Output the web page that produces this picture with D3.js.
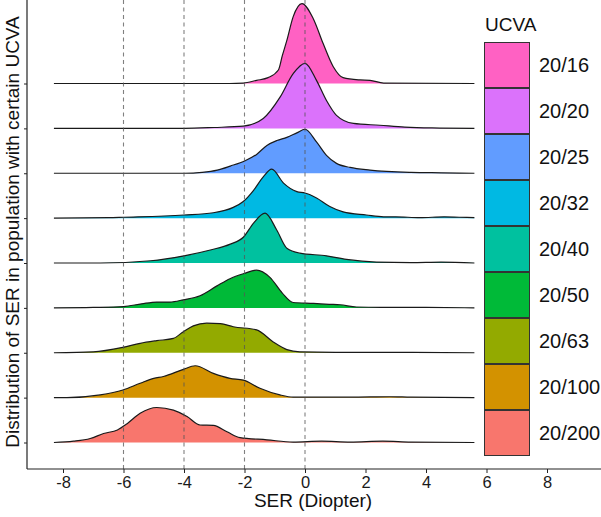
<!DOCTYPE html>
<html>
<head>
<meta charset="utf-8">
<script src="https://cdn.jsdelivr.net/npm/d3@7"></script>
<style>
  html, body { margin: 0; padding: 0; background: #fff; }
  svg { display: block; font-family: "Liberation Sans", Arial, sans-serif; }
</style>
</head>
<body>
<svg id="chart" width="601" height="517"></svg>
<script>
// ---- data ----
const categories = ["20/200", "20/100", "20/63", "20/50", "20/40", "20/32", "20/25", "20/20", "20/16"];
const fillColors = ["#F8766D", "#D39200", "#93AA00", "#00BA38", "#00C19F", "#00B9E3", "#619CFF", "#DB72FB", "#FF61C3"];
const xTicks = [-8, -6, -4, -2, 0, 2, 4, 6, 8];
const refLines = [-6, -4, -2, 0];

// SER values (x) and density heights (in units of one row spacing)
const x_20_16 = [-8.3, -2.5, -2.04, -1.6, -1.22, -0.88, -0.75, -0.6, -0.39, -0.1, 0.27, 0.6, 0.93, 1.26, 1.82, 2.15, 2.6, 5.6];
const d_20_16 = [0, 0, 0.01, 0.07, 0.13, 0.30, 0.62, 0.96, 1.49, 1.78, 1.45, 0.89, 0.38, 0.13, 0.08, 0.07, 0.01, 0];

const x_20_20 = [-8.3, -4, -3, -2.04, -1.38, -0.83, -0.39, 0, 0.38, 0.71, 1.04, 1.6, 2.47, 3.3, 4.2, 5.6];
const d_20_20 = [0, 0, 0.02, 0.05, 0.22, 0.69, 1.22, 1.45, 1.07, 0.62, 0.29, 0.11, 0.07, 0.03, 0.01, 0];

const x_20_25 = [-8.3, -4, -3.4, -2.9, -2.47, -1.98, -1.6, -1.26, -0.93, -0.6, -0.27, 0, 0.38, 0.71, 1.04, 1.49, 2.15, 3.5, 4.5, 5.6];
const d_20_25 = [0, 0, 0.02, 0.07, 0.16, 0.28, 0.42, 0.62, 0.73, 0.80, 0.90, 0.98, 0.70, 0.40, 0.22, 0.13, 0.07, 0.02, 0.01, 0];

const x_20_32 = [-8.3, -6.5, -6, -4, -3.03, -2.37, -2.04, -1.7, -1.38, -1.1, -0.71, -0.27, 0, 0.38, 0.82, 1.26, 2.03, 2.6, 3.0, 3.8, 4.6, 5.1, 5.6];
const d_20_32 = [0, 0.01, 0.02, 0.07, 0.12, 0.24, 0.37, 0.62, 0.92, 1.09, 0.78, 0.59, 0.56, 0.45, 0.26, 0.14, 0.07, 0.03, 0.03, 0.01, 0.03, 0.02, 0.01];

const x_20_40 = [-8.3, -6.77, -5.1, -4, -3.13, -2.47, -2.03, -1.7, -1.32, -0.93, -0.6, -0.17, 0.71, 1.37, 2.36, 3.5, 4.5, 5.6];
const d_20_40 = [0, 0, 0.05, 0.16, 0.29, 0.42, 0.58, 0.89, 1.11, 0.73, 0.33, 0.22, 0.16, 0.08, 0.02, 0.01, 0.02, 0];

const x_20_50 = [-8.3, -7, -6, -5.4, -4.9, -4.46, -4.02, -3.47, -2.91, -2.48, -2.04, -1.6, -1.16, -0.75, -0.39, 0.28, 0.8, 1.16, 1.7, 2.5, 4, 5.6];
const d_20_50 = [0, 0.01, 0.03, 0.09, 0.13, 0.13, 0.18, 0.27, 0.49, 0.65, 0.76, 0.84, 0.68, 0.33, 0.12, 0.10, 0.08, 0.07, 0.02, 0.01, 0.01, 0];

const x_20_63 = [-8.3, -7, -6.02, -5.45, -4.9, -4.35, -4.02, -3.69, -3.25, -2.8, -2.37, -1.6, -1.05, -0.6, -0.17, 1, 3, 5.6];
const d_20_63 = [0, 0.02, 0.12, 0.21, 0.27, 0.32, 0.47, 0.60, 0.66, 0.65, 0.58, 0.51, 0.24, 0.07, 0.02, 0.01, 0.01, 0];

const x_20_100 = [-8.3, -7.87, -6.77, -6.02, -5.45, -5.0, -4.68, -4.02, -3.63, -3.03, -2.48, -2.04, -1.49, -0.83, -0.39, 1.5, 2.8, 3.5, 5.6];
const d_20_100 = [0, 0, 0.06, 0.17, 0.32, 0.43, 0.47, 0.63, 0.71, 0.54, 0.43, 0.39, 0.21, 0.06, 0.01, 0.01, 0.02, 0.01, 0];

const x_20_200 = [-8.3, -7.65, -7.1, -6.66, -6.2, -5.88, -5.45, -4.9, -4.35, -3.9, -3.47, -3.03, -2.58, -2.15, -1.26, -0.39, 0.55, 1.5, 2.57, 3.5, 5.6];
const d_20_200 = [0, 0.03, 0.09, 0.20, 0.28, 0.42, 0.65, 0.78, 0.72, 0.58, 0.39, 0.38, 0.24, 0.11, 0.06, 0.01, 0.03, 0.01, 0.03, 0.01, 0];

const seriesX = [x_20_200, x_20_100, x_20_63, x_20_50, x_20_40, x_20_32, x_20_25, x_20_20, x_20_16];
const seriesD = [d_20_200, d_20_100, d_20_63, d_20_50, d_20_40, d_20_32, d_20_25, d_20_20, d_20_16];

const series = categories.map((c, i) => ({
  cat: c,
  color: fillColors[i],
  pts: seriesX[i].map((xv, j) => [xv, seriesD[i][j]])
}));

// ---- layout ----
const svg = d3.select("#chart");
const axisX0 = 27, axisY = 469, panelTop = 0, panelRight = 601;

const x = d3.scaleLinear().domain([-8, 8]).range([63, 547]);
const yCat = d3.scalePoint().domain(categories).range([442.5, 83.5]);
const rowStep = (442.5 - 83.5) / (categories.length - 1);
const h = d3.scaleLinear().domain([0, 1]).range([0, rowStep]);

const gRidges = svg.append("g");
// draw top row first so lower rows overlay
series.slice().reverse().forEach(s => {
  const base = yCat(s.cat);
  const area = d3.area()
    .x(d => x(d[0])).y0(base).y1(d => base - h(d[1]))
    .curve(d3.curveMonotoneX);
  const line = d3.line()
    .x(d => x(d[0])).y(d => base - h(d[1]))
    .curve(d3.curveMonotoneX);
  gRidges.append("path").attr("d", area(s.pts)).attr("fill", s.color).attr("stroke", "none");
  gRidges.append("path").attr("d", line(s.pts)).attr("fill", "none")
    .attr("stroke", "#1a1a1a").attr("stroke-width", 1.2);
});

// dashed reference lines
svg.append("g").selectAll("line").data(refLines).join("line")
  .attr("x1", d => x(d)).attr("x2", d => x(d))
  .attr("y1", panelTop).attr("y2", axisY)
  .attr("stroke", "#555").attr("stroke-opacity", 0.75)
  .attr("stroke-width", 1.1).attr("stroke-dasharray", "4,3.5");

// x axis
const xAxis = d3.axisBottom(x).tickValues(xTicks).tickSize(4).tickPadding(3)
  .tickFormat(d => String(d));
const gx = svg.append("g").attr("transform", `translate(0,${axisY})`).call(xAxis);
gx.select(".domain").remove();
gx.selectAll(".tick line").attr("stroke", "#222");
gx.selectAll(".tick text").attr("font-size", 16.5).attr("fill", "#1a1a1a")
  .attr("font-family", "Liberation Sans, Arial, sans-serif");
svg.append("line").attr("x1", axisX0).attr("x2", panelRight).attr("y1", axisY).attr("y2", axisY)
  .attr("stroke", "#222").attr("stroke-width", 1.2);

// y axis
const yAxis = d3.axisLeft(yCat).tickSize(3).tickFormat("");
const gy = svg.append("g").attr("transform", `translate(${axisX0},0)`).call(yAxis);
gy.select(".domain").remove();
gy.selectAll(".tick line").attr("stroke", "#222");
svg.append("line").attr("x1", axisX0).attr("x2", axisX0).attr("y1", panelTop).attr("y2", axisY)
  .attr("stroke", "#222").attr("stroke-width", 1.2);

// axis titles
svg.append("text").attr("x", 313).attr("y", 507).attr("text-anchor", "middle")
  .attr("font-size", 19).attr("fill", "#111").text("SER (Diopter)");
svg.append("text").attr("transform", "translate(19,232) rotate(-90)").attr("text-anchor", "middle")
  .attr("font-size", 19).attr("fill", "#111").text("Distribution of SER in population with certain UCVA");

// legend
const legendCats = categories.slice().reverse();
const legendColors = fillColors.slice().reverse();
const lg = svg.append("g");
lg.append("text").attr("x", 485).attr("y", 31).attr("font-size", 19).attr("fill", "#111").text("UCVA");
const keyH = 46, keyW = 45, keyX = 484.5, keyY0 = 42;
legendCats.forEach((c, i) => {
  lg.append("rect").attr("x", keyX).attr("y", keyY0 + i * keyH + 0.5)
    .attr("width", keyW).attr("height", keyH - 1)
    .attr("fill", legendColors[i]).attr("stroke", "#333").attr("stroke-width", 1);
  lg.append("text").attr("x", 539).attr("y", keyY0 + i * keyH + keyH / 2)
    .attr("dy", "0.37em").attr("font-size", 20).attr("fill", "#111").text(c);
});
</script>
</body>
</html>
